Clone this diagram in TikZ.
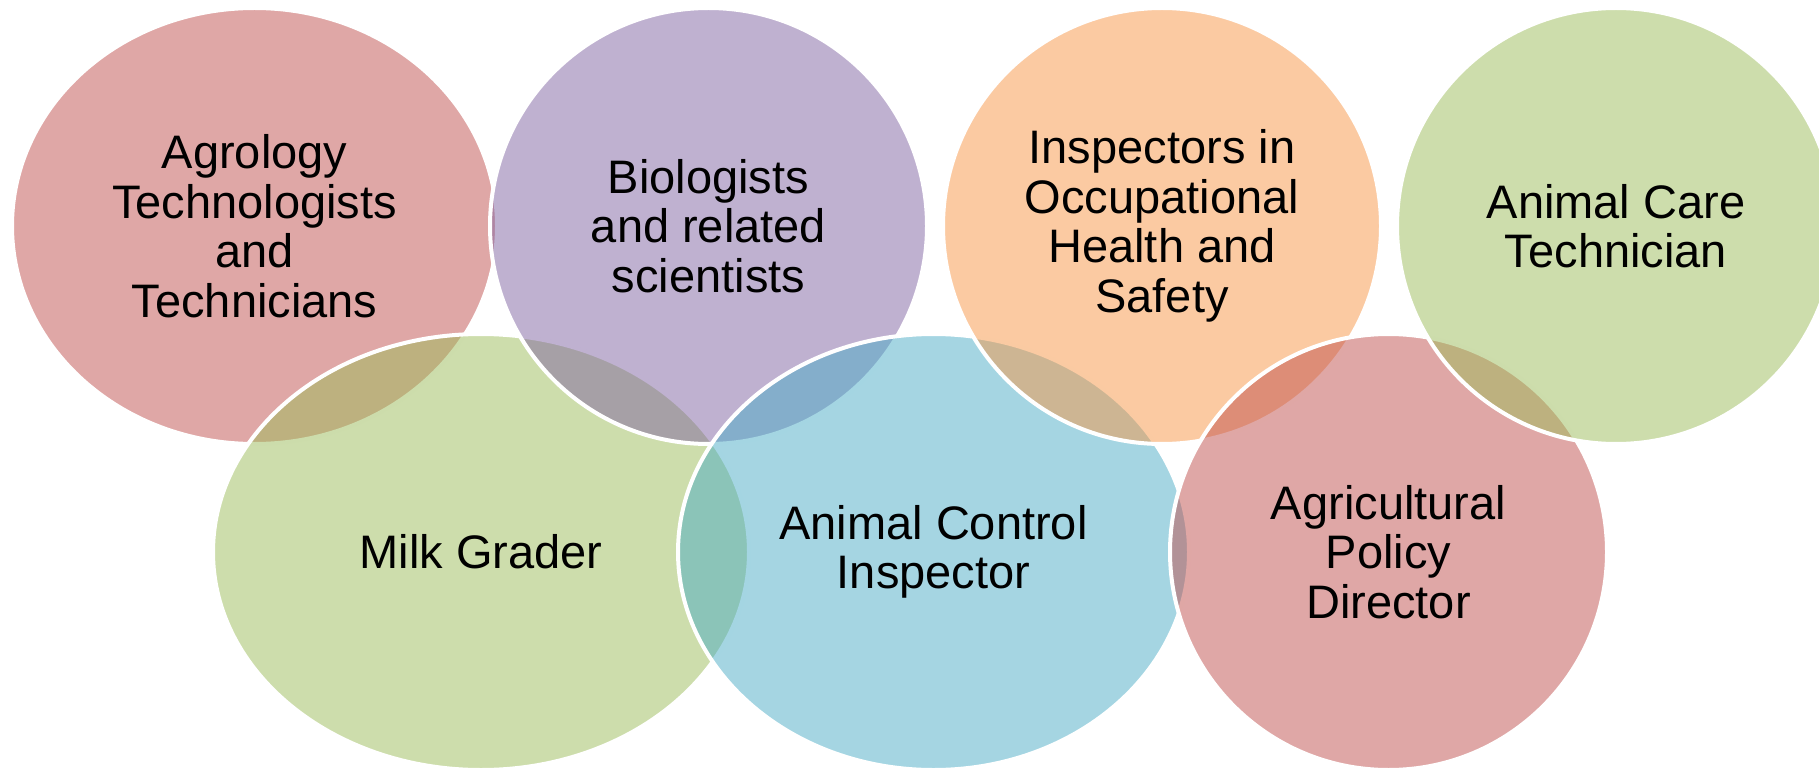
\documentclass[tikz,border=0pt]{standalone}
\usepackage{fontspec}
\setmainfont{Liberation Sans}
\usepackage{tikz}
\usetikzlibrary{shapes.geometric}

\definecolor{jobred}{HTML}{C0504D}
\definecolor{jobgreen}{HTML}{9BBB59}
\definecolor{jobpurple}{HTML}{8064A2}
\definecolor{jobblue}{HTML}{4BACC6}
\definecolor{joborange}{HTML}{F79646}

\begin{document}
\begin{tikzpicture}
			[x=0.5pt,y=-0.5pt,every node/.style={ellipse,draw=white,line width=2pt,fill opacity=.5,text opacity=1,inner sep=0pt,align=center,font=\fontsize{23.5}{24.75}\selectfont}, job/.style={minimum height=218pt}]
			\useasboundingbox (0,0) rectangle (1819,770);
			% upper and lower row, drawn in zigzag order
			\node[job,fill=jobred,minimum width=242.5pt] (agro) at (254.5,226) {Agrology\\Technologists\\and\\Technicians};
			\node[job,fill=jobgreen,minimum width=268pt] (milk) at (481,552) {Milk Grader};
			\node[job,fill=jobpurple,minimum width=218.5pt] (bio) at (708.5,226) {Biologists\\and related\\scientists};
			\node[job,fill=jobblue,minimum width=255.5pt] (control) at (933.5,552) {Animal Control\\Inspector};
			\node[job,fill=joborange,minimum width=219pt] (ohs) at (1162,226) {Inspectors in\\Occupational\\Health and\\Safety};
			\node[job,fill=jobred,minimum width=218.5pt] (policy) at (1388.5,552) {Agricultural\\Policy\\Director};
			\node[job,fill=jobgreen,minimum width=219pt] (care) at (1616,226) {Animal Care\\Technician};
			\end{tikzpicture}
\end{document}
